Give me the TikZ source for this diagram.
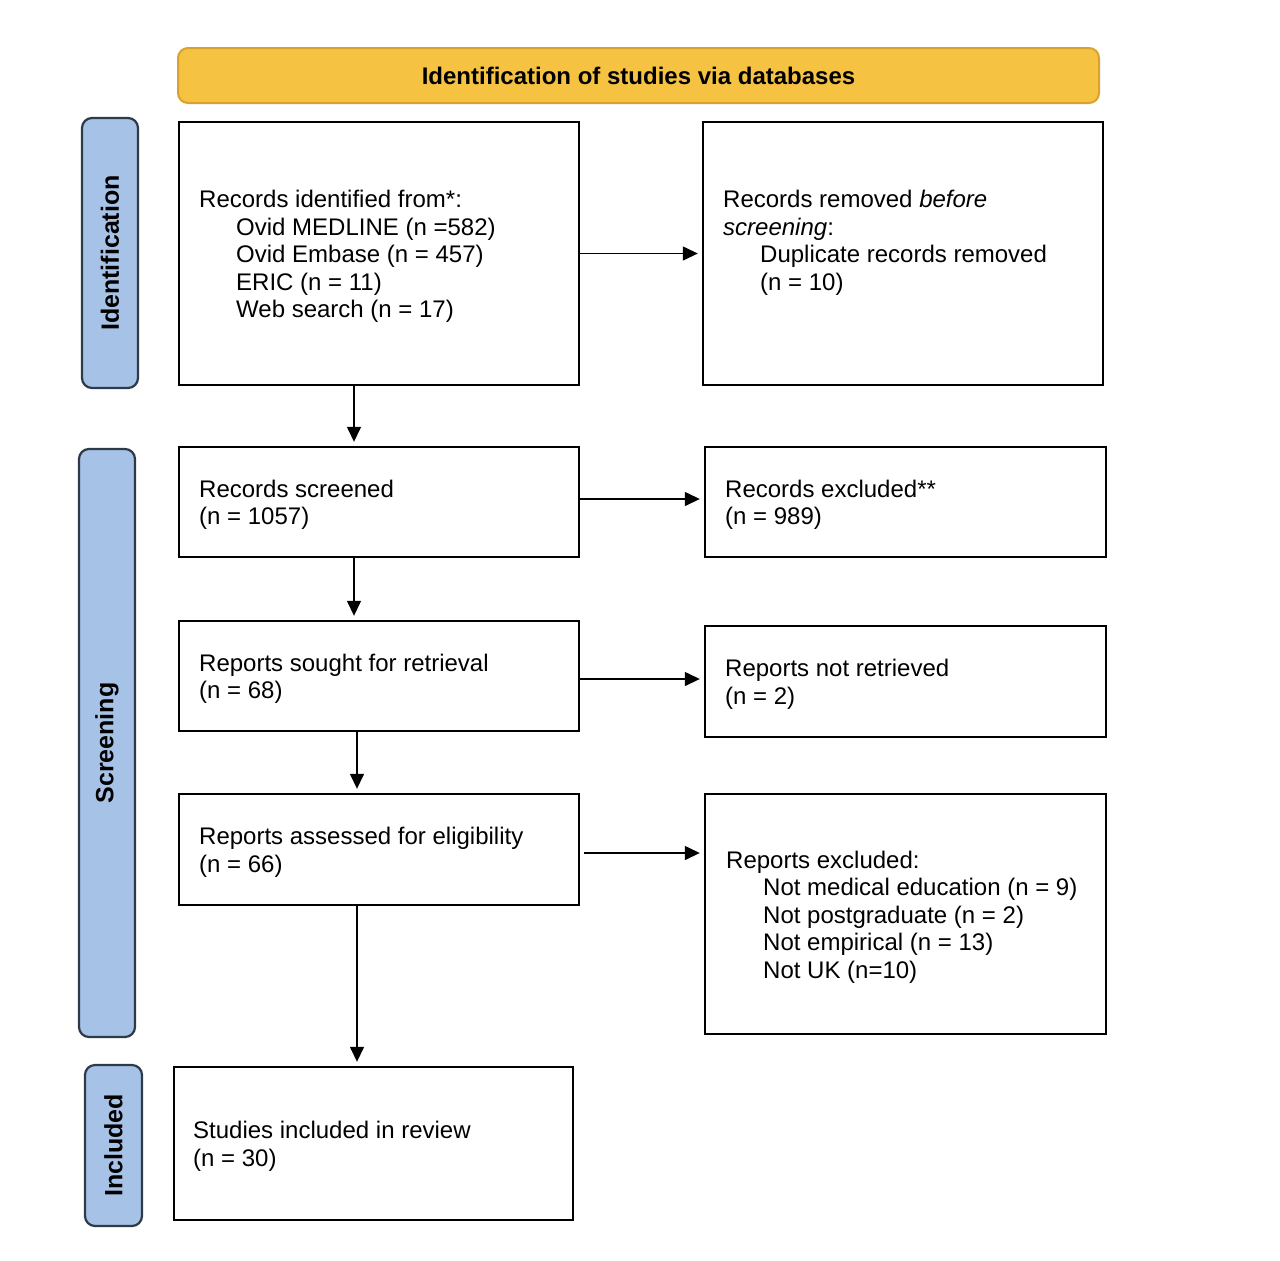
\documentclass[tikz,border=0pt]{standalone}
\usepackage{fontspec}
\setmainfont{Liberation Sans}
\usetikzlibrary{arrows.meta}
\definecolor{hdrfill}{HTML}{F5C242}
\definecolor{hdrline}{HTML}{D9A22E}
\definecolor{sidefill}{HTML}{A6C2E6}
\definecolor{sideline}{HTML}{2E3A48}
\tikzset{
  stagebox/.style={draw=black, line width=1.2pt, anchor=center, inner sep=0pt},
  boxtext/.style={anchor=west, align=left, inner xsep=10.5pt, inner ysep=0pt,
    font=\fontsize{12}{13.75}\selectfont},
  sidelabel/.style={draw=sideline, fill=sidefill, line width=1.1pt, rounded corners=5pt,
    rotate=90, anchor=center, font=\fontsize{12.5}{14}\selectfont\bfseries, inner sep=0pt},
  arr/.style={draw=black, line width=0.7pt, -{Triangle[length=7.5pt,width=7pt]}, shorten >=2pt}
}
\newcommand{\ind}{\hspace*{18.5pt}}
\begin{document}
\begin{tikzpicture}[x=0.5pt,y=-0.5pt]
\useasboundingbox (0,0) rectangle (1280,1260);
\fill[white] (0,0) rectangle (1280,1260);

\node[draw=hdrline, fill=hdrfill, line width=1pt, rounded corners=5pt, minimum width=460.5pt,
  minimum height=27.5pt, inner sep=0pt, font=\fontsize{12}{14}\selectfont\bfseries]
  (hdr) at (638.5,75.5) {Identification of studies via databases};

\node[sidelabel, minimum width=135pt, minimum height=28pt] (sideid) at (110,253) {Identification};
\node[sidelabel, minimum width=294pt, minimum height=28pt] (sidescr) at (107,743) {Screening};
\node[sidelabel, minimum width=80.5pt, minimum height=28.5pt] (sideinc) at (113.5,1145.5) {Included};

% boxes
\node[stagebox, minimum width=200pt, minimum height=131.5pt] (ident) at (379,253.5) {};
\node[stagebox, minimum width=200pt, minimum height=131.5pt] (removed) at (903,253.5) {};
\node[stagebox, minimum width=200pt, minimum height=55pt] (screened) at (379,502) {};
\node[stagebox, minimum width=200.5pt, minimum height=55pt] (excl) at (905.5,502) {};
\node[stagebox, minimum width=200pt, minimum height=55pt] (sought) at (379,676) {};
\node[stagebox, minimum width=200.5pt, minimum height=55.5pt] (notret) at (905.5,681.5) {};
\node[stagebox, minimum width=200pt, minimum height=55.5pt] (assessed) at (379,849.5) {};
\node[stagebox, minimum width=200.5pt, minimum height=120pt] (repexcl) at (905.5,914) {};
\node[stagebox, minimum width=199.5pt, minimum height=76.5pt] (incl) at (373.5,1143.5) {};

% texts
\node[boxtext] (identtxt) at ([yshift=-1.5pt]ident.west)
  {Records identified from*:\\ \ind Ovid MEDLINE (n =582)\\ \ind Ovid Embase (n = 457)\\ \ind ERIC (n = 11)\\ \ind Web search (n = 17)};
\node[boxtext] (removedtxt) at ([yshift=5.4pt]removed.west)
  {Records removed \textit{before}\\ \textit{screening}:\\ \ind Duplicate records removed\\ \ind (n = 10)};
\node[boxtext] (screenedtxt) at ([yshift=-1.5pt]screened.west)
  {Records screened\\ (n = 1057)};
\node[boxtext] (excltxt) at ([yshift=-1.5pt]excl.west)
  {Records excluded**\\ (n = 989)};
\node[boxtext] (soughttxt) at ([yshift=-1.5pt]sought.west)
  {Reports sought for retrieval\\ (n = 68)};
\node[boxtext] (notrettxt) at ([yshift=-1.5pt]notret.west)
  {Reports not retrieved\\ (n = 2)};
\node[boxtext] (assessedtxt) at ([yshift=-1.5pt]assessed.west)
  {Reports assessed for eligibility\\ (n = 66)};
\node[boxtext, inner xsep=11pt] (repexcltxt) at ([yshift=-1.5pt]repexcl.west)
  {Reports excluded:\\ \ind Not medical education (n = 9)\\ \ind Not postgraduate (n = 2)\\ \ind Not empirical (n = 13)\\ \ind Not UK (n=10)};
\node[boxtext, inner xsep=10pt] (incltxt) at ([yshift=-1.5pt]incl.west)
  {Studies included in review\\ (n = 30)};

\draw[arr] (ident.east) -- (removed.west);
\draw[arr] ([xshift=-12.5pt]ident.south) -- ([xshift=-12.5pt]ident.south |- screened.north);
\draw[arr] ([yshift=1.5pt]screened.east) -- ([yshift=1.5pt]screened.east -| excl.west);
\draw[arr] ([xshift=-12.5pt]screened.south) -- ([xshift=-12.5pt]screened.south |- sought.north);
\draw[arr] ([yshift=-1.5pt]sought.east) -- ([yshift=-1.5pt]sought.east -| notret.west);
\draw[arr] ([xshift=-11pt]sought.south) -- ([xshift=-11pt]sought.south |- assessed.north);
\draw[arr] ([xshift=2pt,yshift=-1.75pt]assessed.east) -- ([yshift=-1.75pt]assessed.east -| repexcl.west);
\draw[arr] ([xshift=-11pt]assessed.south) -- ([xshift=-11pt]assessed.south |- incl.north);
\end{tikzpicture}
\end{document}
